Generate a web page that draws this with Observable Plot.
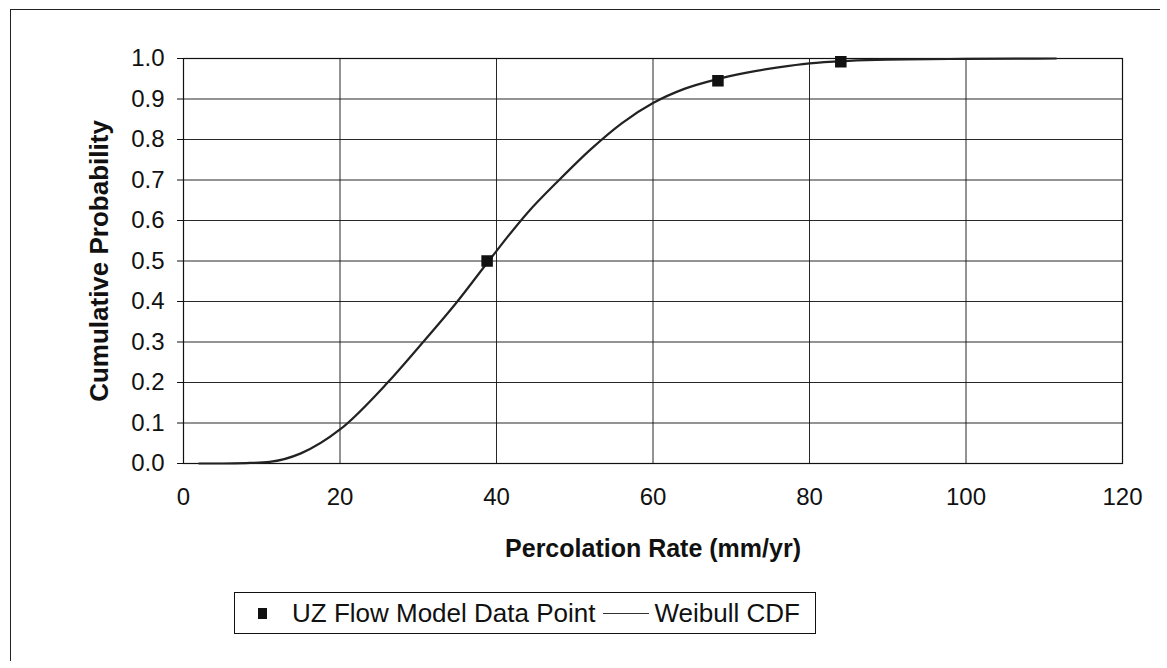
<!DOCTYPE html>
<html>
<head>
<meta charset="utf-8">
<script src="https://cdn.jsdelivr.net/npm/d3@7"></script>
<script src="https://cdn.jsdelivr.net/npm/@observablehq/plot@0.6"></script>
<style>
  body { margin: 0; background: #fff; font-family: "Liberation Sans", Arial, sans-serif; }
  #wrap { position: relative; width: 1167px; height: 668px; overflow: hidden; background: #fff; }
  #frame { position: absolute; left: 10px; top: 9px; width: 1150px; height: 652px;
           border-left: 1.5px solid #222; border-top: 1.5px solid #222; box-sizing: border-box; }
  #chart { position: absolute; left: 0; top: 0; }
  #legend { position: absolute; left: 234px; top: 592px; width: 582px; height: 42px;
            border: 1.5px solid #111; box-sizing: border-box; display: flex; align-items: center;
            font-size: 26px; color: #111; white-space: nowrap; }
  #legend .sq { display: inline-block; width: 9px; height: 11px; background: #111; margin-left: 23px; margin-right: 25px; }
  #legend .ln { display: inline-block; width: 46px; height: 0; border-top: 1.5px solid #333; margin-left: 8px; margin-right: 5px; }
  .ch g[aria-label="x-axis label"] { font-weight: bold; font-size: 25px; }
  .ch g[aria-label="y-axis label"] { font-weight: bold; font-size: 26px; }
</style>
</head>
<body>
<div id="wrap">
  <div id="frame"></div>
  <div id="chart"></div>
  <div id="legend"><span class="sq"></span><span>UZ Flow Model Data Point</span><span class="ln"></span><span>Weibull CDF</span></div>
</div>
<script>
// Tick values
const xTicks = [0, 20, 40, 60, 80, 100, 120];
const yTicks = [0.0, 0.1, 0.2, 0.3, 0.4, 0.5, 0.6, 0.7, 0.8, 0.9, 1.0];

// Weibull CDF curve
const curveX = [2, 5, 8, 11, 15, 20, 26, 30, 35, 39, 44, 48, 52, 56, 60, 64, 68, 72, 76, 80, 85, 90, 100, 111.5];
const curveY = [0.0, 0.0, 0.001, 0.004, 0.025, 0.084, 0.198, 0.286, 0.40, 0.50, 0.62, 0.70, 0.775, 0.84, 0.89, 0.925, 0.948, 0.965, 0.978, 0.988, 0.994, 0.997, 0.999, 1.0];

// UZ Flow Model data points
const pointX = [38.8, 68.3, 84.0];
const pointY = [0.50, 0.945, 0.992];

const curve = curveX.map((x, i) => ({x, y: curveY[i]}));
const points = pointX.map((x, i) => ({x, y: pointY[i]}));

const chart = Plot.plot({
  className: "ch",
  width: 1167,
  height: 600,
  marginLeft: 183,
  marginRight: 45,
  marginTop: 58,
  marginBottom: 137,
  style: { fontFamily: "Liberation Sans, Arial, sans-serif", fontSize: "24px", color: "#111", background: "transparent", overflow: "visible" },
  x: { domain: [0, 120], ticks: xTicks, tickSize: 0, tickPadding: 24,
       label: "Percolation Rate (mm/yr)", labelAnchor: "center", labelArrow: "none", labelOffset: 93 },
  y: { domain: [0, 1], ticks: yTicks, tickSize: 6, tickPadding: 13, tickFormat: d3.format(".1f"),
       label: "Cumulative Probability", labelAnchor: "center", labelArrow: "none", labelOffset: 94 },
  marks: [
    Plot.gridX(xTicks, { stroke: "#111", strokeOpacity: 0.9, strokeWidth: 1 }),
    Plot.gridY(yTicks, { stroke: "#111", strokeOpacity: 0.9, strokeWidth: 1 }),
    Plot.frame({ stroke: "#111", strokeWidth: 1.2 }),
    Plot.line(curve, { x: "x", y: "y", curve: "monotone-x", stroke: "#222", strokeWidth: 2.2 }),
    Plot.dot(points, { x: "x", y: "y", symbol: "square", fill: "#111", stroke: "none", r: 6.5 })
  ]
});
document.getElementById("chart").appendChild(chart);
</script>
</body>
</html>
